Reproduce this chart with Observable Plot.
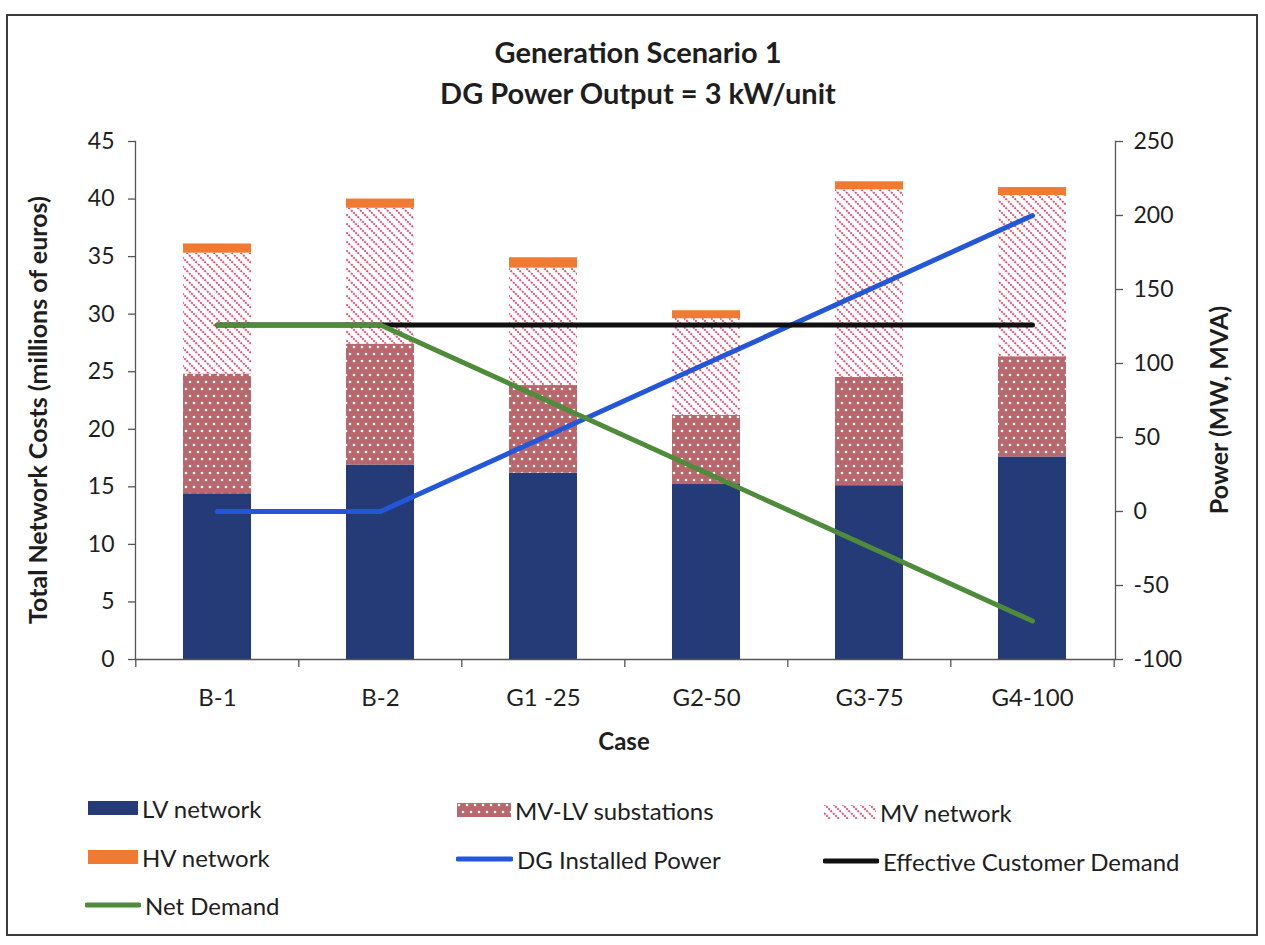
<!DOCTYPE html>
<html>
<head>
<meta charset="utf-8">
<script src="https://cdn.jsdelivr.net/npm/d3@7"></script>
<script src="https://cdn.jsdelivr.net/npm/@observablehq/plot@0.6"></script>
<style>
  html, body { margin: 0; padding: 0; background: #fff; }
  #page { position: relative; width: 1265px; height: 945px; overflow: hidden; font-family: Lato, "Open Sans", sans-serif; color: #1e1e1e; }
  #frame { position: absolute; left: 6px; top: 14px; width: 1252px; height: 922px; border: 2px solid #3a3a3a; box-sizing: border-box; }
  .title { position: absolute; left: 0; width: 1276px; text-align: center; font-weight: 700; font-size: 29px; line-height: 34px; }
  #chart { position: absolute; left: 0; top: 120px; }
  .axtitle { position: absolute; font-weight: 700; font-size: 25px; white-space: nowrap; transform-origin: center center; }
  .leg { position: absolute; display: flex; align-items: center; font-size: 24px; white-space: nowrap; }
  .leg svg { display: block; margin-right: 4px; }
</style>
</head>
<body>
<div id="page">
  <svg width="0" height="0" style="position:absolute">
    <defs>
      <pattern id="dots" patternUnits="userSpaceOnUse" width="8" height="14">
        <rect width="8" height="14" fill="#b8676c"></rect>
        <circle cx="2" cy="3" r="1.3" fill="#ffffff"></circle>
        <circle cx="6" cy="10" r="1.3" fill="#ffffff"></circle>
      </pattern>
      <pattern id="hatch" patternUnits="userSpaceOnUse" width="9" height="9">
        <rect width="9" height="9" fill="#ffffff"></rect>
        <path d="M-2,-2 L11,11 M-2,7 L2,11 M7,-2 L11,2" stroke="#dc4f70" stroke-width="1.9" stroke-dasharray="2 1"></path>
      </pattern>
    </defs>
  </svg>
  <div id="frame"></div>
  <div class="title" style="top:35px">Generation Scenario 1</div>
  <div class="title" style="top:76px">DG Power Output = 3 kW/unit</div>
  <div id="chart"></div>
  <div class="axtitle" id="ylabL">Total Network Costs (millions of euros)</div>
  <div class="axtitle" id="ylabR">Power (MW, MVA)</div>
  <div class="axtitle" id="xlab" style="font-size:24px">Case</div>
  <div id="legend"></div>
</div>
<script>
// ---- data ----
const cases = ["B-1", "B-2", "G1 -25", "G2-50", "G3-75", "G4-100"];
const seriesNames = ["LV network", "MV-LV substations", "MV network", "HV network"];
const lvNetwork = [14.4, 16.9, 16.2, 15.2, 15.1, 17.6];
const mvlvSubstations = [10.4, 10.5, 7.6, 6.0, 9.4, 8.7];
const mvNetwork = [10.5, 11.8, 10.2, 8.4, 16.3, 14.0];
const hvNetwork = [0.8, 0.8, 0.9, 0.7, 0.7, 0.7];
const dgInstalledPower = [0, 0, 50, 100, 150, 200];
const effectiveCustomerDemand = [126, 126, 126, 126, 126, 126];
const netDemand = [126, 126, 76, 26, -24, -74];
const leftTicks = [0, 5, 10, 15, 20, 25, 30, 35, 40, 45];
const rightTicks = [-100, -50, 0, 50, 100, 150, 200, 250];

// ---- build tables ----
const costValues = [lvNetwork, mvlvSubstations, mvNetwork, hvNetwork];
const costs = [];
seriesNames.forEach((s, si) => cases.forEach((c, i) => costs.push({case: c, series: s, value: costValues[si][i]})));

const leftMax = 45, rMin = -100, rMax = 250;
const toLeft = p => (p - rMin) * leftMax / (rMax - rMin);
const fromLeft = v => Math.round(v * (rMax - rMin) / leftMax + rMin);
const lineTable = (vals) => cases.map((c, i) => ({case: c, value: vals[i]}));

const fills = ["#253b78", "url(#dots)", "url(#hatch)", "#f07a32"];
const axisColor = "#555";

const plot = Plot.plot({
  width: 1265,
  height: 640,
  marginLeft: 135,
  marginRight: 150,
  marginTop: 21,
  marginBottom: 101,
  style: {fontFamily: "Lato, 'Open Sans', sans-serif", fontSize: "23px", color: "#1e1e1e", background: "transparent", overflow: "visible"},
  x: {domain: cases, paddingInner: 0.58, paddingOuter: 0.29, axis: null},
  y: {domain: [0, leftMax], axis: null},
  color: {domain: seriesNames, range: fills},
  marks: [
    Plot.barY(costs, {x: "case", y: "value", fill: "series", order: seriesNames}),
    Plot.ruleY([0], {stroke: axisColor, strokeWidth: 1.3}),
    Plot.frame({anchor: "left", stroke: axisColor, strokeWidth: 1.3}),
    Plot.frame({anchor: "right", stroke: axisColor, strokeWidth: 1.3}),
    Plot.axisY(leftTicks, {anchor: "left", tickSize: 7, tickPadding: 14, label: null, stroke: axisColor, strokeWidth: 1.3, fontSize: 23}),
    Plot.axisY(rightTicks.map(toLeft), {anchor: "right", tickSize: 7, tickPadding: 11, label: null, tickFormat: fromLeft, stroke: axisColor, strokeWidth: 1.3, fontSize: 23}),
    Plot.axisX({anchor: "bottom", tickSize: 0, tickPadding: 29, label: null, fontSize: 24}),
    Plot.ruleX(cases, {x: d => d, dx: -81.7, y1: 0, y2: -0.7, stroke: axisColor, strokeWidth: 1.3}),
    Plot.ruleX([cases[cases.length - 1]], {x: d => d, dx: 81.7, y1: 0, y2: -0.7, stroke: axisColor, strokeWidth: 1.3}),
    Plot.line(lineTable(dgInstalledPower), {x: "case", y: d => toLeft(d.value), stroke: "#2357d8", strokeWidth: 5}),
    Plot.line(lineTable(effectiveCustomerDemand), {x: "case", y: d => toLeft(d.value), stroke: "#111111", strokeWidth: 5}),
    Plot.line(lineTable(netDemand), {x: "case", y: d => toLeft(d.value), stroke: "#4e8b3a", strokeWidth: 5})
  ]
});
document.getElementById("chart").appendChild(plot);

// axis titles
const yl = document.getElementById("ylabL");
yl.style.left = "37px"; yl.style.top = "410px";
yl.style.transform = "translate(-50%, -50%) rotate(-90deg)";
const yr = document.getElementById("ylabR");
yr.style.left = "1218px"; yr.style.top = "410px";
yr.style.transform = "translate(-50%, -50%) rotate(-90deg)";
const xl = document.getElementById("xlab");
xl.style.left = "624px"; xl.style.top = "740px";
xl.style.transform = "translate(-50%, -50%)";

// legend
const legendItems = [
  {label: "LV network", kind: "rect", fill: fills[0], x: 88, y: 808, w: 50},
  {label: "MV-LV substations", kind: "rect", fill: fills[1], x: 457, y: 810, w: 54},
  {label: "MV network", kind: "rect", fill: fills[2], x: 824, y: 812, w: 52},
  {label: "HV network", kind: "rect", fill: fills[3], x: 88, y: 857, w: 50},
  {label: "DG Installed Power", kind: "line", fill: "#2357d8", x: 456, y: 859, w: 57},
  {label: "Effective Customer Demand", kind: "line", fill: "#111111", x: 823, y: 861, w: 56},
  {label: "Net Demand", kind: "line", fill: "#4e8b3a", x: 85, y: 905, w: 56}
];
const leg = document.getElementById("legend");
legendItems.forEach(it => {
  const d = document.createElement("div");
  d.className = "leg";
  d.style.left = it.x + "px";
  d.style.top = (it.y - 15) + "px";
  d.style.height = "30px";
  const sw = it.kind === "rect"
    ? `<svg width="${it.w}" height="16"><rect x="0" y="1" width="${it.w}" height="14" fill="${it.fill}"></rect></svg>`
    : `<svg width="${it.w}" height="16"><line x1="2" x2="${it.w - 2}" y1="8" y2="8" stroke="${it.fill}" stroke-width="5" stroke-linecap="round"></line></svg>`;
  d.innerHTML = sw + `<span>${it.label}</span>`;
  leg.appendChild(d);
});
</script>
</body>
</html>
